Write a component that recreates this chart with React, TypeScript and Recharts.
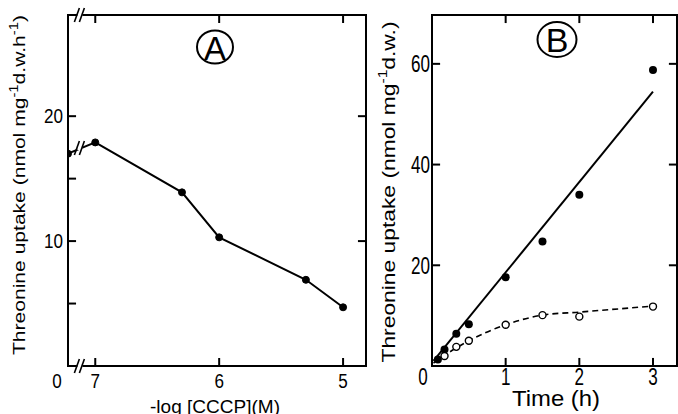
import { ComposedChart, Line, Scatter, XAxis, YAxis, ReferenceDot, ReferenceArea, ReferenceLine } from "recharts";

const FONT = "'Liberation Sans', Arial, sans-serif";

// Panel A: uptake against -log[CCCP]
const cccpLog = [7, 6.3, 6, 5.3, 5];
const uptakeA = [17.9, 13.9, 10.3, 6.9, 4.7];
const controlSlot = 7.22; // the "0" (no CCCP) slot, left of the axis break
const controlUptake = 17.0;
const cccpTicks = [controlSlot, 7, 6, 5];
const cccpTickLabels = ["0", "7", "6", "5"];
const uptakeTicksA = [5, 10, 15, 20];
const uptakeLabelsA = ["", "10", "", "20"];
const breakSlot = 7.12;
const lineBreakUptake = 17.45;

// Panel B: uptake against time
const hours = [0.08, 0.17, 0.33, 0.5, 1, 1.5, 2, 3];
const uptakeFilled = [1.3, 3.3, 6.4, 8.3, 17.6, 24.7, 34.0, 58.8];
const hoursOpen = [0.17, 0.33, 0.5, 1, 1.5, 2, 3];
const uptakeOpen = [2.0, 3.8, 5.0, 8.2, 10.1, 9.8, 11.8];
const fitHours = [0.02, 3];
const fitUptake = [1.0, 54.5];
const curveHours = [0.02, 0.2, 0.5, 1, 1.5, 2, 3];
const curveUptake = [0.6, 2.4, 5.0, 8.2, 10.1, 10.7, 11.9];
const timeTicks = [0, 1, 2, 3];
const uptakeTicksB = [20, 40, 60];

const dataA = [
  { x: controlSlot, y: controlUptake },
  ...cccpLog.map((x, i) => ({ x, y: uptakeA[i] })),
];
const filledB = hours.map((x, i) => ({ x, y: uptakeFilled[i] }));
const openB = hoursOpen.map((x, i) => ({ x, y: uptakeOpen[i] }));
const fitB = fitHours.map((x, i) => ({ x, y: fitUptake[i] }));
const curveB = curveHours.map((x, i) => ({ x, y: curveUptake[i] }));

const domainA: [number, number] = [4.815, controlSlot];
const yDomainA: [number, number] = [0, 28.1];
const domainB: [number, number] = [0, 3.326];
const yDomainB: [number, number] = [0, 69.7];
// inward tick length (about 8px) expressed in each axis' units
const markA = { x: 0.065, y: 0.64 };
const markB = { x: 0.11, y: 1.6 };

const OFF = 6; // recharts puts tick text this far from the axis line (tickSize 6, tickMargin 0)

// tick label only, placed `pad` px away from the axis line
function TickLabel(props: any) {
  const { x, y, payload, side, pad = 0, size = 20, labelOf, zeroShift = 0 } = props;
  const label: string = labelOf(payload.value) || "";
  if (!label) return null;
  const w = label.length * 9.5;
  let tx: number;
  let ty = y;
  let dy = "0.71em";
  if (side === "bottom") {
    ty = y - OFF + pad;
    tx = x - w / 2 - (label === "0" ? zeroShift : 0);
  } else {
    tx = x + OFF - pad - w;
    dy = "0.36em";
  }
  return (
    <text x={tx} y={ty} dy={dy} fontSize={size} fontFamily={FONT} fill="#000" textLength={w} lengthAdjust="spacingAndGlyphs">
      {label}
    </text>
  );
}

const Break = (p: any) => (
  <g stroke="#000" strokeWidth={1.6}>
    <rect x={p.cx - 3} y={p.cy - 2} width={5} height={4} fill="#fff" stroke="none" />
    <line x1={p.cx - 6} y1={p.cy + 7} x2={p.cx - 1} y2={p.cy - 7} />
    <line x1={p.cx - 1} y1={p.cy + 7} x2={p.cx + 4} y2={p.cy - 7} />
  </g>
);

const FilledDot = (p: any) => <circle cx={p.cx} cy={p.cy} r={4} fill="#000" />;
const OpenDot = (p: any) => <circle cx={p.cx} cy={p.cy} r={3.5} fill="#fff" stroke="#000" strokeWidth={1.4} />;

const axisBase = { tickSize: 6, tickMargin: 0, axisLine: false, tickLine: false, allowDataOverflow: true, interval: 0 as const };

// frame plus inward ticks on all four sides
function frameMarks(xd: [number, number], yd: [number, number], xt: number[], yt: number[], yRight: number[], mk: { x: number; y: number }) {
  const s = { stroke: "#000", strokeWidth: 2 };
  return [
    <ReferenceArea key="frame" x1={xd[0]} x2={xd[1]} y1={yd[0]} y2={yd[1]} fill="none" fillOpacity={0} stroke="#000" strokeWidth={2} ifOverflow="visible" />,
    ...xt.map((t) => <ReferenceLine key={"b" + t} segment={[{ x: t, y: yd[0] }, { x: t, y: yd[0] + mk.y }]} {...s} />),
    ...xt.map((t) => <ReferenceLine key={"t" + t} segment={[{ x: t, y: yd[1] }, { x: t, y: yd[1] - mk.y }]} {...s} />),
    ...yt.map((v) => <ReferenceLine key={"l" + v} segment={[{ x: xd[1], y: v }, { x: xd[1] - mk.x, y: v }]} {...s} />),
    ...yRight.map((v) => <ReferenceLine key={"r" + v} segment={[{ x: xd[0], y: v }, { x: xd[0] + mk.x, y: v }]} {...s} />),
  ];
}

function PanelA() {
  return (
    <ComposedChart width={380} height={414} margin={{ top: 15, right: 14, bottom: 0, left: 0 }}>
      <XAxis
        {...axisBase}
        type="number"
        dataKey="x"
        domain={domainA}
        reversed
        ticks={cccpTicks}
        height={48}
        tick={<TickLabel side="bottom" pad={8} size={20} zeroShift={11} labelOf={(v: number) => cccpTickLabels[cccpTicks.indexOf(v)]} />}
      />
      <YAxis
        {...axisBase}
        type="number"
        dataKey="y"
        domain={yDomainA}
        ticks={uptakeTicksA}
        width={68}
        tick={<TickLabel side="left" pad={5} size={20} labelOf={(v: number) => uptakeLabelsA[uptakeTicksA.indexOf(v)]} />}
      />
      {/* reversed axis: xd[1] (controlSlot) is the left edge */}
      {frameMarks(domainA, yDomainA, [7, 6, 5], uptakeTicksA, [10, 20], markA)}
      <Line
        data={dataA}
        dataKey="y"
        type="linear"
        stroke="#000"
        strokeWidth={2}
        dot={{ r: 3.5, fill: "#000", stroke: "#000", strokeWidth: 1 }}
        isAnimationActive={false}
      />
      <ReferenceDot x={breakSlot} y={yDomainA[0]} ifOverflow="visible" shape={Break} />
      <ReferenceDot x={breakSlot} y={yDomainA[1]} ifOverflow="visible" shape={Break} />
      <ReferenceDot x={breakSlot} y={lineBreakUptake} ifOverflow="visible" shape={Break} />
    </ComposedChart>
  );
}

function PanelB() {
  // left edge is xd[0] here, so flip the helper's left/right by passing a reversed domain pair
  const s = { stroke: "#000", strokeWidth: 2 };
  return (
    <ComposedChart width={298} height={414} margin={{ top: 15, right: 1, bottom: 0, left: 0 }}>
      <XAxis
        {...axisBase}
        type="number"
        dataKey="x"
        domain={domainB}
        ticks={timeTicks}
        height={48}
        tick={<TickLabel side="bottom" pad={2} size={24} zeroShift={9} labelOf={(v: number) => String(v)} />}
      />
      <YAxis
        {...axisBase}
        type="number"
        dataKey="y"
        domain={yDomainB}
        ticks={uptakeTicksB}
        width={52}
        tick={<TickLabel side="left" pad={2} size={24} labelOf={(v: number) => String(v)} />}
      />
      <ReferenceArea x1={domainB[0]} x2={domainB[1]} y1={yDomainB[0]} y2={yDomainB[1]} fill="none" fillOpacity={0} stroke="#000" strokeWidth={2} ifOverflow="visible" />
      {[1, 2, 3].map((t) => (
        <ReferenceLine key={"b" + t} segment={[{ x: t, y: yDomainB[0] }, { x: t, y: yDomainB[0] + markB.y }]} {...s} />
      ))}
      {[1, 2, 3].map((t) => (
        <ReferenceLine key={"t" + t} segment={[{ x: t, y: yDomainB[1] }, { x: t, y: yDomainB[1] - markB.y }]} {...s} />
      ))}
      {uptakeTicksB.map((v) => (
        <ReferenceLine key={"l" + v} segment={[{ x: domainB[0], y: v }, { x: domainB[0] + markB.x, y: v }]} {...s} />
      ))}
      {uptakeTicksB.map((v) => (
        <ReferenceLine key={"r" + v} segment={[{ x: domainB[1], y: v }, { x: domainB[1] - markB.x, y: v }]} {...s} />
      ))}
      <Line data={fitB} dataKey="y" type="linear" stroke="#000" strokeWidth={2} dot={false} isAnimationActive={false} />
      <Line
        data={curveB}
        dataKey="y"
        type="monotone"
        stroke="#000"
        strokeWidth={1.6}
        strokeDasharray="6 4"
        dot={false}
        isAnimationActive={false}
      />
      <Scatter data={filledB} dataKey="y" shape={FilledDot} isAnimationActive={false} />
      <Scatter data={openB} dataKey="y" shape={OpenDot} isAnimationActive={false} />
    </ComposedChart>
  );
}

export default function App() {
  return (
    <div style={{ position: "absolute", left: 0, top: 0, width: 678, height: 414, background: "#fff", overflow: "hidden" }}>
      <div style={{ position: "absolute", left: 0, top: 0 }}>
        <PanelA />
      </div>
      <div style={{ position: "absolute", left: 380, top: 0 }}>
        <PanelB />
      </div>
      <svg width={678} height={414} style={{ position: "absolute", left: 0, top: 0, pointerEvents: "none" }} fontFamily={FONT}>
        <ellipse cx={215} cy={47} rx={18} ry={16.5} fill="none" stroke="#000" strokeWidth={2} />
        <text x={215} y={60} textAnchor="middle" fontSize={33}>A</text>
        <ellipse cx={557} cy={39.5} rx={19.5} ry={17.5} fill="none" stroke="#000" strokeWidth={2} />
        <text x={557} y={52} textAnchor="middle" fontSize={34}>B</text>

        <text x={-145} y={185} transform="rotate(-90 25 185)" fontSize={17} textLength={340} lengthAdjust="spacingAndGlyphs">
          Threonine uptake (nmol mg<tspan dy={-7} fontSize={12}>-1</tspan>
          <tspan dy={7}>d.w.h</tspan>
          <tspan dy={-7} fontSize={12}>-1</tspan>
          <tspan dy={7}>)</tspan>
        </text>
        <text x={224.5} y={192} transform="rotate(-90 395 192)" fontSize={19} textLength={341} lengthAdjust="spacingAndGlyphs">
          Threonine uptake (nmol mg<tspan dy={-8} fontSize={13}>-1</tspan>
          <tspan dy={8}>d.w.)</tspan>
        </text>

        <text x={150} y={413} fontSize={18} textLength={130} lengthAdjust="spacingAndGlyphs">
          -log [CCCP](M)
        </text>
        <text x={512} y={406} fontSize={22} textLength={88} lengthAdjust="spacingAndGlyphs">
          Time (h)
        </text>
      </svg>
    </div>
  );
}
